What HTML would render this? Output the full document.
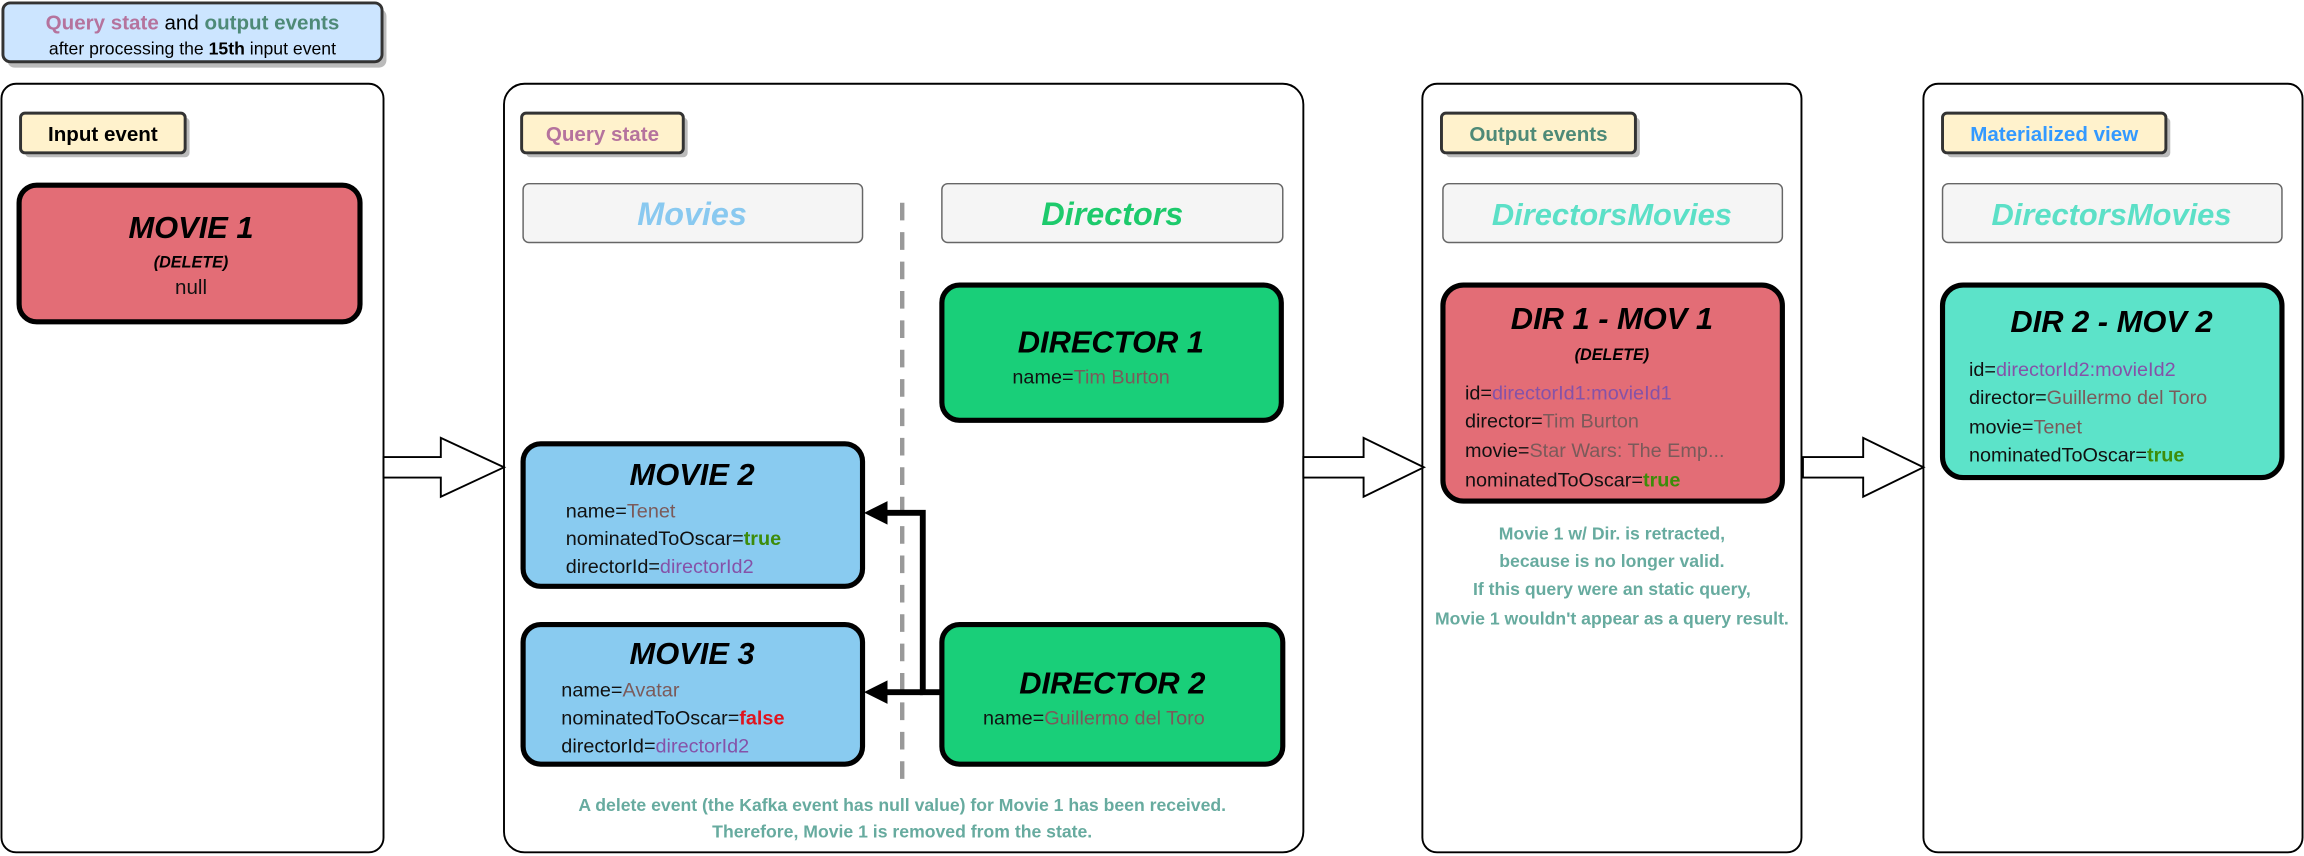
<!DOCTYPE html>
<html><head><meta charset="utf-8"><style>
html,body{margin:0;padding:0;background:#fff;}
svg{display:block}
.t{font-family:"Liberation Sans",sans-serif;font-weight:900;font-style:italic;text-anchor:middle;fill:#000}
.b{font-family:"Liberation Sans",sans-serif;font-size:13.5px;fill:#111}
.lbl{font-family:"Liberation Sans",sans-serif;font-size:14px;font-weight:bold;text-anchor:middle}
.n{fill:#7b5a5a}.p{fill:#8552a8}.g{fill:#3d8c0a}.r{fill:#e0141e}
.note{font-family:"Liberation Sans",sans-serif;font-size:12px;font-weight:bold;fill:#67ab9f;text-anchor:middle}
.box{stroke:#000;stroke-width:3.5}
</style></head><body>
<svg width="2304" height="856" viewBox="0 0 1568 582.5" preserveAspectRatio="none" xmlns="http://www.w3.org/2000/svg">
<rect x="5" y="6" width="258" height="40" rx="5" fill="#bbb"/>
<rect x="2" y="2" width="258" height="40" rx="5" fill="#cce5ff" stroke="#333" stroke-width="2"/>
<text x="131" y="20" class="lbl" style="font-size:14px"><tspan fill="#b5739d">Query state</tspan><tspan fill="#000" font-weight="normal"> and </tspan><tspan fill="#4e8a77">output events</tspan></text>
<text x="131" y="37" style="font-family:'Liberation Sans',sans-serif;font-size:12px;text-anchor:middle">after processing the <tspan font-weight="bold">15th</tspan> input event</text>

<rect x="1" y="57" width="260" height="523" rx="10" fill="#fff" stroke="#000" stroke-width="1.3"/>
<rect x="343" y="57" width="544" height="523" rx="14" fill="#fff" stroke="#000" stroke-width="1.3"/>
<rect x="968" y="57" width="258" height="523" rx="10" fill="#fff" stroke="#000" stroke-width="1.3"/>
<rect x="1309" y="57" width="258" height="523" rx="10" fill="#fff" stroke="#000" stroke-width="1.3"/>

<g>
<rect x="17" y="80" width="112" height="27" rx="3" fill="#bbb"/>
<rect x="14" y="77" width="112" height="27" rx="3" fill="#fff2cc" stroke="#333" stroke-width="2"/>
<text x="70" y="96" class="lbl" fill="#000">Input event</text>
<rect x="358" y="80" width="110" height="27" rx="3" fill="#bbb"/>
<rect x="355" y="77" width="110" height="27" rx="3" fill="#fff2cc" stroke="#333" stroke-width="2"/>
<text x="410" y="96" class="lbl" fill="#b5739d">Query state</text>
<rect x="984" y="80" width="132" height="27" rx="3" fill="#bbb"/>
<rect x="981" y="77" width="132" height="27" rx="3" fill="#fff2cc" stroke="#333" stroke-width="2"/>
<text x="1047" y="96" class="lbl" fill="#4e8a77">Output events</text>
<rect x="1325" y="80" width="152" height="27" rx="3" fill="#bbb"/>
<rect x="1322" y="77" width="152" height="27" rx="3" fill="#fff2cc" stroke="#333" stroke-width="2"/>
<text x="1398" y="96" class="lbl" fill="#3399ff">Materialized view</text>
</g>

<rect x="356" y="125" width="231" height="40" rx="4" fill="#f5f5f5" stroke="#666"/>
<text x="471" y="153" class="t" style="font-size:22px;fill:#89c9f0">Movies</text>
<rect x="641" y="125" width="232" height="40" rx="4" fill="#f5f5f5" stroke="#666"/>
<text x="757" y="153" class="t" style="font-size:22px;fill:#1dca6c">Directors</text>
<rect x="982" y="125" width="231" height="40" rx="4" fill="#f5f5f5" stroke="#666"/>
<text x="1097" y="153" class="t" style="font-size:21px;fill:#5ce0c7">DirectorsMovies</text>
<rect x="1322" y="125" width="231" height="40" rx="4" fill="#f5f5f5" stroke="#666"/>
<text x="1437" y="153" class="t" style="font-size:21px;fill:#5ce0c7">DirectorsMovies</text>

<line x1="614" y1="138" x2="614" y2="535" stroke="#999" stroke-width="3" stroke-dasharray="12,8"/>

<rect x="13" y="126" width="232" height="93" rx="12" fill="#e36d76" class="box"/>
<text x="130" y="162" class="t" style="font-size:21px">MOVIE 1</text>
<text x="130" y="182" class="t" style="font-size:11px">(DELETE)</text>
<text x="130" y="200" class="b" style="text-anchor:middle;font-size:14px">null</text>

<rect x="641" y="194" width="231" height="92" rx="12" fill="#19cf79" class="box"/>
<text x="756" y="240" class="t" style="font-size:21px">DIRECTOR 1</text>
<text x="689" y="261" class="b">name=<tspan class="n">Tim Burton</tspan></text>

<rect x="356" y="302" width="231" height="97" rx="12" fill="#89cbf0" class="box"/>
<text x="471" y="330" class="t" style="font-size:21px">MOVIE 2</text>
<text x="385" y="352" class="b">name=<tspan class="n">Tenet</tspan></text>
<text x="385" y="371" class="b">nominatedToOscar=<tspan class="g" font-weight="bold">true</tspan></text>
<text x="385" y="390" class="b">directorId=<tspan class="p">directorId2</tspan></text>

<rect x="356" y="425" width="231" height="95" rx="12" fill="#89cbf0" class="box"/>
<text x="471" y="452" class="t" style="font-size:21px">MOVIE 3</text>
<text x="382" y="474" class="b">name=<tspan class="n">Avatar</tspan></text>
<text x="382" y="493" class="b">nominatedToOscar=<tspan class="r" font-weight="bold">false</tspan></text>
<text x="382" y="512" class="b">directorId=<tspan class="p">directorId2</tspan></text>

<rect x="641" y="425" width="232" height="95" rx="12" fill="#19cf79" class="box"/>
<text x="757" y="472" class="t" style="font-size:21px">DIRECTOR 2</text>
<text x="669" y="493" class="b">name=<tspan class="n">Guillermo del Toro</tspan></text>

<polyline points="641,471 628,471 628,349 600,349" fill="none" stroke="#000" stroke-width="4"/>
<line x1="628" y1="471" x2="600" y2="471" stroke="#000" stroke-width="4"/>
<polygon points="588,349 604,341 604,357" fill="#000"/>
<polygon points="588,471 604,463 604,479" fill="#000"/>

<text x="614" y="552" class="note">A delete event (the Kafka event has null value) for Movie 1 has been received.</text>
<text x="614" y="570" class="note">Therefore, Movie 1 is removed from the state.</text>

<g fill="#fff" stroke="#000" stroke-width="1.3">
<polygon points="261,311 300,311 300,298 343,318 300,338 300,325 261,325"/>
<polygon points="887,311 928,311 928,298 969,318 928,338 928,325 887,325"/>
<polygon points="1227,311 1268,311 1268,298 1309,318 1268,338 1268,325 1227,325"/>
</g>

<rect x="982" y="194" width="231" height="147" rx="14" fill="#e36d76" class="box"/>
<text x="1097" y="224" class="t" style="font-size:21px">DIR 1 - MOV 1</text>
<text x="1097" y="245" class="t" style="font-size:11px">(DELETE)</text>
<text x="997" y="272" class="b">id=<tspan class="p">directorId1:movieId1</tspan></text>
<text x="997" y="291" class="b">director=<tspan class="n">Tim Burton</tspan></text>
<text x="997" y="311" class="b">movie=<tspan class="n">Star Wars: The Emp...</tspan></text>
<text x="997" y="331" class="b">nominatedToOscar=<tspan class="g" font-weight="bold">true</tspan></text>

<text x="1097" y="367" class="note">Movie 1 w/ Dir. is retracted,</text>
<text x="1097" y="386" class="note">because is no longer valid.</text>
<text x="1097" y="405" class="note">If this query were an static query,</text>
<text x="1097" y="425" class="note">Movie 1 wouldn't appear as a query result.</text>

<rect x="1322" y="194" width="231" height="131" rx="14" fill="#5ce3c9" class="box"/>
<text x="1437" y="226" class="t" style="font-size:21px">DIR 2 - MOV 2</text>
<text x="1340" y="256" class="b">id=<tspan class="p">directorId2:movieId2</tspan></text>
<text x="1340" y="275" class="b">director=<tspan class="n">Guillermo del Toro</tspan></text>
<text x="1340" y="295" class="b">movie=<tspan class="n">Tenet</tspan></text>
<text x="1340" y="314" class="b">nominatedToOscar=<tspan class="g" font-weight="bold">true</tspan></text>
</svg>
</body></html>
